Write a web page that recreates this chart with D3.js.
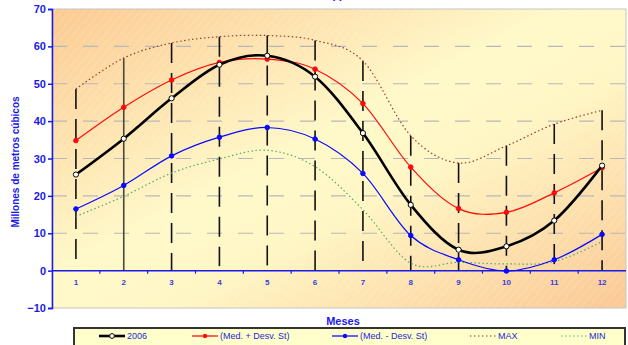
<!DOCTYPE html>
<html>
<head>
<meta charset="utf-8">
<script src="https://cdn.jsdelivr.net/npm/d3@7"></script>
<style>
  html, body { margin: 0; padding: 0; background: #ffffff; }
  svg { display: block; font-family: Arial, "Liberation Sans", sans-serif; }
</style>
</head>
<body>
<svg id="chart" width="628" height="345"></svg>
<script>
// Monthly volumes (millions of cubic metres)
const months = ["1","2","3","4","5","6","7","8","9","10","11","12"];
const serie2006   = [25.7, 35.3, 46.1, 55.1, 57.5, 51.9, 36.8, 17.6, 5.6, 6.5, 13.4, 28.1];
const medMasDesv  = [34.8, 43.7, 51.0, 55.7, 56.6, 53.9, 44.7, 27.7, 16.6, 15.6, 20.8, 27.5];
const medMenosDesv= [16.5, 22.8, 30.7, 35.7, 38.3, 35.2, 26.0, 9.4, 2.9, -0.1, 2.9, 9.7];
const maxSerie    = [48.6, 56.9, 60.9, 62.6, 62.9, 61.6, 56.1, 36.1, 28.8, 33.4, 39.2, 42.9];
const minSerie    = [14.5, 19.9, 26.1, 29.9, 32.2, 27.8, 16.3, 2.0, 2.2, 1.8, 2.4, 7.8];
// lower end of the high-low bars at each month
const barLow      = [2.0, 0, 0, 1.2, 1.4, 0, 2.2, 0, 0, 0, 0, 0];
const yTicks = [-10, 0, 10, 20, 30, 40, 50, 60, 70];

const svg = d3.select("#chart");
const plotL = 52, plotR = 626, plotT = 9, plotB = 308;
const blue = "#1a1ae6";

const x = d3.scaleBand().domain(months).range([plotL, plotR]).padding(0);
const y = d3.scaleLinear().domain([-10, 70]).range([plotB, plotT]);
const cx = m => x(m) + x.bandwidth() / 2;

const defs = svg.append("defs");
const grad = defs.append("linearGradient").attr("id", "bg")
  .attr("x1", 0).attr("y1", 0).attr("x2", 1).attr("y2", 1);
grad.append("stop").attr("offset", "0%").attr("stop-color", "#fcca92");
grad.append("stop").attr("offset", "45%").attr("stop-color", "#fff9c9");
grad.append("stop").attr("offset", "60%").attr("stop-color", "#fff6c4");
grad.append("stop").attr("offset", "100%").attr("stop-color", "#fbc894");

const pat = defs.append("pattern").attr("id", "hatch")
  .attr("width", 6).attr("height", 6).attr("patternUnits", "userSpaceOnUse")
  .attr("patternTransform", "rotate(40)");
pat.append("line").attr("x1", 0).attr("y1", 0).attr("x2", 0).attr("y2", 6)
  .attr("stroke", "#ffffff").attr("stroke-opacity", 0.28).attr("stroke-width", 1);

// title (sits above the top edge of the page)
svg.append("text").attr("x", 343).attr("y", -1).attr("text-anchor", "end")
  .attr("font-size", 11).attr("font-weight", "bold").attr("fill", blue)
  .text("Volumen embalsado (*)");

// plot background
svg.append("rect").attr("x", plotL).attr("y", plotT).attr("width", plotR - plotL).attr("height", plotB - plotT)
  .attr("fill", "url(#bg)").attr("stroke", "#c4c4c4").attr("stroke-width", 1);
svg.append("rect").attr("x", plotL).attr("y", plotT).attr("width", plotR - plotL).attr("height", plotB - plotT)
  .attr("fill", "url(#hatch)");

// horizontal grid
svg.append("g").selectAll("line").data(yTicks.filter(v => v > 0 && v < 70)).join("line")
  .attr("x1", plotL).attr("x2", plotR).attr("y1", d => y(d)).attr("y2", d => y(d))
  .attr("stroke", "#b8b8b8").attr("stroke-width", 1.2).attr("stroke-dasharray", "15,16");

// high-low bars
svg.append("g").selectAll("line").data(months).join("line")
  .attr("x1", d => cx(d)).attr("x2", d => cx(d))
  .attr("y1", (d, i) => y(maxSerie[i])).attr("y2", (d, i) => y(barLow[i]))
  .attr("stroke", (d, i) => i === 1 ? "#4a4a3a" : "#111111")
  .attr("stroke-width", 1.6)
  .attr("stroke-dasharray", (d, i) => i === 1 ? null : "20,10");

// axes
const yAxis = d3.axisLeft(y).tickValues(yTicks).tickSize(4).tickFormat(d3.format("d"));
const gy = svg.append("g").attr("transform", `translate(${plotL},0)`).call(yAxis);
gy.select(".domain").attr("stroke", blue).attr("stroke-width", 1.5);
gy.selectAll(".tick line").attr("stroke", blue).attr("stroke-width", 1.5);
gy.selectAll(".tick text").attr("fill", blue).attr("font-size", 11).attr("font-weight", "bold")
  .attr("font-family", "Arial, Liberation Sans, sans-serif").attr("x", -6);

// zero line with category ticks
const gx = svg.append("g").attr("transform", `translate(0,${y(0)})`);
gx.append("line").attr("x1", plotL).attr("x2", plotR).attr("stroke", blue).attr("stroke-width", 1.5);
gx.selectAll("line.tk").data(months.slice(1)).join("line").attr("class", "tk")
  .attr("x1", d => x(d)).attr("x2", d => x(d)).attr("y1", 0).attr("y2", 3)
  .attr("stroke", blue).attr("stroke-width", 1.2);
gx.selectAll("text").data(months).join("text")
  .attr("x", d => cx(d)).attr("y", 14).attr("text-anchor", "middle")
  .attr("font-size", 8).attr("font-weight", "bold").attr("fill", "#3b3be0").text(d => d);

// series
const line = d3.line().x((d, i) => cx(months[i])).y(d => y(d)).curve(d3.curveCatmullRom.alpha(0));
function drawSeries(vals, color, width, dash) {
  svg.append("path").datum(vals).attr("d", line).attr("fill", "none")
    .attr("stroke", color).attr("stroke-width", width)
    .attr("stroke-dasharray", dash).attr("stroke-linejoin", "round");
}
function drawMarks(vals, fill, stroke, r) {
  svg.append("g").selectAll("circle").data(vals).join("circle")
    .attr("cx", (d, i) => cx(months[i])).attr("cy", d => y(d)).attr("r", r)
    .attr("fill", fill).attr("stroke", stroke).attr("stroke-width", 1);
}
drawSeries(minSerie, "#4caf6a", 1.2, "1.5,2.5");
drawSeries(maxSerie, "#9a3a30", 1.2, "1.5,2.5");
drawSeries(medMenosDesv, "#0a0aff", 1.2, null);
drawMarks(medMenosDesv, "#0a0aff", "#0a0aff", 2.3);
drawSeries(medMasDesv, "#ff0a0a", 1.2, null);
drawMarks(medMasDesv, "#ff0a0a", "#ff0a0a", 2.3);
drawSeries(serie2006, "#000000", 2.6, null);
drawMarks(serie2006, "#ffffff", "#000000", 2.6);

// axis titles
svg.append("text").attr("x", 343).attr("y", 325).attr("text-anchor", "middle")
  .attr("font-size", 11).attr("font-weight", "bold").attr("fill", blue).text("Meses");
svg.append("text").attr("transform", "translate(19,162) rotate(-90)").attr("text-anchor", "middle")
  .attr("font-size", 10).attr("font-weight", "bold").attr("fill", blue).text("Millones de metros cúbicos");

// legend
const lg = svg.append("g");
lg.append("rect").attr("x", 74).attr("y", 328).attr("width", 551).attr("height", 26)
  .attr("fill", "#ffffcc").attr("stroke", "#333333").attr("stroke-width", 2);
const legendItems = [
  { label: "2006", x: 99, color: "#000000", w: 2.6, dash: null, mark: "open" },
  { label: "(Med. + Desv. St)", x: 192, color: "#ff3a3a", w: 1.6, dash: null, mark: "red" },
  { label: "(Med. - Desv. St)", x: 332, color: "#3a3aff", w: 1.6, dash: null, mark: "blue" },
  { label: "MAX", x: 470, color: "#9a3a30", w: 1.2, dash: "1.5,2.5", mark: null },
  { label: "MIN", x: 561, color: "#4caf6a", w: 1.2, dash: "1.5,2.5", mark: null }
];
const ly = 336;
legendItems.forEach(it => {
  lg.append("line").attr("x1", it.x).attr("x2", it.x + 26).attr("y1", ly).attr("y2", ly)
    .attr("stroke", it.color).attr("stroke-width", it.w).attr("stroke-dasharray", it.dash);
  if (it.mark === "open") {
    lg.append("circle").attr("cx", it.x + 13).attr("cy", ly).attr("r", 2.4)
      .attr("fill", "#fff").attr("stroke", "#000").attr("stroke-width", 1);
  } else if (it.mark) {
    lg.append("circle").attr("cx", it.x + 13).attr("cy", ly).attr("r", 2.2)
      .attr("fill", it.mark === "red" ? "#ff0a0a" : "#0a0aff");
  }
  lg.append("text").attr("x", it.x + 28).attr("y", ly + 3.2)
    .attr("font-size", 9).attr("fill", "#2525d8").text(it.label);
});
</script>
</body>
</html>
